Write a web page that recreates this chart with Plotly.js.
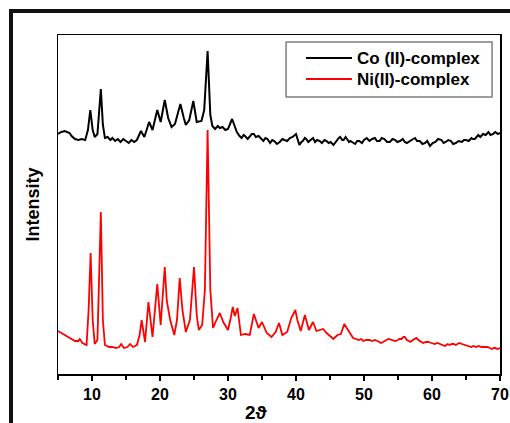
<!DOCTYPE html>
<html>
<head>
<meta charset="utf-8">
<script src="https://cdn.plot.ly/plotly-3.0.1.min.js"></script>
<style>
  html, body { margin: 0; padding: 0; background: #fff; }
  #wrap { position: relative; width: 510px; height: 423px; overflow: hidden; }
  #chart { position: absolute; left: 0; top: 0; width: 510px; height: 423px; }
  #frame { position: absolute; left: 9px; top: 9px; width: 520px; height: 440px;
           border-left: 4px solid #111; border-top: 4px solid #111; pointer-events: none; }
</style>
</head>
<body>
<div id="wrap">
  <div id="chart"></div>
  <div id="frame"></div>
</div>
<script>
// 2θ positions (degrees) and intensities (arbitrary units) for the Co(II) complex
const coTheta = [5.0,5.5,6.0,6.3,6.7,7.0,7.5,8.0,8.5,9.0,9.4,9.75,10.1,10.4,10.8,11.3,11.6,11.9,12.3,12.7,13.0,13.4,13.8,14.2,14.6,15.0,15.4,15.8,16.2,16.6,17.2,17.7,18.4,18.9,19.6,20.1,20.7,21.2,21.7,22.2,23.0,23.5,23.8,24.3,24.9,25.4,26.1,26.5,27.0,27.4,27.7,28.1,28.5,28.8,29.2,29.6,30.0,30.6,31.0,
  31.3,31.7,32.0,32.3,32.5,32.9,33.2,33.5,33.8,34.1,34.5,34.8,35.2,35.5,35.8,36.2,36.5,36.8,37.2,37.6,38.0,38.3,38.7,39.1,39.5,40.0,40.2,40.5,40.8,41.0,41.3,41.5,41.8,42.1,42.5,42.8,43.1,43.5,43.8,44.2,44.5,44.8,45.1,45.5,45.8,46.0,46.3,46.5,46.8,47.0,47.3,47.5,47.8,48.0,48.4,48.7,49.0,49.3,49.7,50.0,50.4,50.8,51.2,51.6,51.9,52.3,52.6,53.0,53.4,53.8,54.2,54.6,54.9,55.3,55.7,56.0,56.3,56.7,57.0,57.5,57.8,58.2,58.6,59.0,59.3,59.7,60.1,60.5,60.9,61.4,61.7,62.0,62.4,62.8,63.1,63.5,63.9,64.4,64.7,65.0,65.4,65.8,66.0,66.3,66.6,66.8,67.1,67.5,67.9,68.3,68.6,69.0,69.3,69.7,70.0];
const coIntensity = [240,242,243,242,241,238,235,234,235,234,244,264,244,237,240,285,249,236,237,234,236,233,235,232,235,233,231,234,232,234,243,237,252,244,264,252,274,256,247,250,270,256,249,254,273,252,253,264,323,259,248,245,248,246,247,244,245,255,248,
  242,238,236,239,238,235,237,240,240,237,238,236,233,236,235,231,234,233,230,232,235,234,233,236,237,240,236,229,232,233,236,235,232,234,236,232,234,233,231,234,233,231,232,229,232,233,236,237,234,234,237,235,232,233,231,230,233,233,231,234,236,233,235,236,233,233,236,235,232,232,235,234,232,233,235,232,231,233,234,236,233,233,230,231,233,228,231,232,235,234,231,232,234,233,230,231,233,232,234,234,233,236,235,235,238,239,237,240,239,242,239,240,242,240,241];

// 2θ positions (degrees) and intensities (arbitrary units) for the Ni(II) complex
const niTheta = [5.0,5.5,6.0,6.5,7.0,7.5,8.0,8.2,8.6,9.2,9.5,9.8,10.1,10.4,10.8,11.3,11.6,11.9,12.5,13.0,13.5,14.0,14.3,14.7,15.2,15.6,16.0,16.6,17.0,17.3,17.8,18.3,18.9,19.6,20.1,20.7,21.0,21.5,22.1,22.5,22.9,23.3,23.8,24.4,25.0,25.4,25.7,26.2,26.6,27.0,27.4,27.8,28.3,28.8,29.3,30.0,30.4,30.7,31.0,31.4,31.9,32.5,33.2,33.8,34.5,35.0,35.7,36.4,37.0,37.5,38.0,38.7,39.3,39.9,40.2,40.7,41.3,41.9,42.5,43.0,43.5,44.0,44.5,45.5,46.1,46.6,47.1,47.7,
  48.4,48.8,49.2,49.6,49.9,50.3,50.8,51.2,51.6,52.0,52.5,52.8,53.0,53.3,53.6,54.0,54.3,54.6,55.0,55.2,55.5,55.8,56.0,56.3,56.6,56.8,57.2,57.7,58.0,58.2,58.7,59.1,59.5,59.9,60.4,60.8,61.2,61.6,61.9,62.3,62.6,62.9,63.2,63.5,64.0,64.4,64.8,65.2,65.8,66.1,66.5,66.9,67.3,67.8,68.2,68.5,68.8,69.1,69.3,69.6,70.0];
const niIntensity = [43,41,39,37,35,33,33,35,31,29,64,121,54,30,34,162,54,29,27,27,26,27,30,26,27,30,27,29,39,54,32,72,37,90,49,107,73,54,39,54,96,64,42,54,107,59,44,49,84,244,84,46,54,61,52,44,56,67,58,66,39,40,39,60,46,52,41,37,42,51,39,42,56,64,54,43,59,44,52,43,44,45,41,35,39,40,50,43,
  36,35,34,35,33,34,34,33,34,33,31,32,33,34,35,34,33,33,34,35,35,37,37,34,33,32,34,36,34,33,31,32,32,31,30,31,30,29,28,30,29,30,30,29,31,30,29,28,27,28,27,28,27,27,27,26,25,26,26,25,26];

const seriesNames = ["Co (II)-complex", "Ni(II)-complex"];
const seriesColors = ["#000000", "#ff0000"];
const xTitle = "2\u03D1";
const yTitle = "Intensity";

const traces = [
  { x: coTheta, y: coIntensity, name: seriesNames[0], type: "scatter", mode: "lines",
    line: { color: seriesColors[0], width: 2 } },
  { x: niTheta, y: niIntensity, name: seriesNames[1], type: "scatter", mode: "lines",
    line: { color: seriesColors[1], width: 1.8 } }
];

// hand-drawn legend box (paper coordinates)
const legBox = { x0: 0.516, x1: 0.982, y0: 0.817, y1: 0.979 };
const legRowsY = [0.932, 0.870];
const legLineX = [0.561, 0.665];
const legTextX = 0.672;

const shapes = [
  { type: "rect", xref: "paper", yref: "paper", x0: legBox.x0, x1: legBox.x1, y0: legBox.y0, y1: legBox.y1,
    line: { color: "#7f7f7f", width: 1.5 }, fillcolor: "#ffffff", layer: "above" }
];
const annotations = [
  { text: xTitle, xref: "paper", yref: "paper", x: 0.45, y: -0.115,
    xanchor: "center", yanchor: "middle", showarrow: false,
    font: { size: 19, weight: "bold", color: "#000" } }
];
seriesNames.forEach((nm, i) => {
  shapes.push({ type: "line", xref: "paper", yref: "paper", x0: legLineX[0], x1: legLineX[1],
    y0: legRowsY[i], y1: legRowsY[i], line: { color: seriesColors[i], width: 2 }, layer: "above" });
  annotations.push({ text: nm, xref: "paper", yref: "paper", x: legTextX, y: legRowsY[i],
    xanchor: "left", yanchor: "middle", showarrow: false,
    font: { size: 17, weight: "bold", color: "#000" } });
});

const layout = {
  width: 510, height: 423,
  margin: { l: 58, r: 10, t: 35, b: 49 },
  paper_bgcolor: "#ffffff", plot_bgcolor: "#ffffff",
  font: { family: "Liberation Sans, Arial, sans-serif", color: "#000" },
  showlegend: false,
  xaxis: {
    range: [5, 70], tick0: 0, dtick: 10,
    showgrid: false, zeroline: false,
    showline: true, linecolor: "#000", linewidth: 1.5, mirror: true,
    ticks: "outside", ticklen: 5, tickwidth: 1.5, tickcolor: "#000",
    minor: { dtick: 5, tick0: 0, ticks: "outside", ticklen: 4, tickwidth: 1.2, tickcolor: "#000" },
    tickfont: { size: 16, weight: "bold", color: "#000" }
  },
  yaxis: {
    range: [0, 339],
    showgrid: false, zeroline: false, showticklabels: false,
    showline: true, linecolor: "#000", linewidth: 1.5, mirror: true,
    ticks: "",
    title: { text: yTitle, font: { size: 18, weight: "bold", color: "#000" }, standoff: 12 }
  },
  shapes: shapes,
  annotations: annotations
};

Plotly.newPlot("chart", traces, layout, { displayModeBar: false, staticPlot: true });
</script>
</body>
</html>
